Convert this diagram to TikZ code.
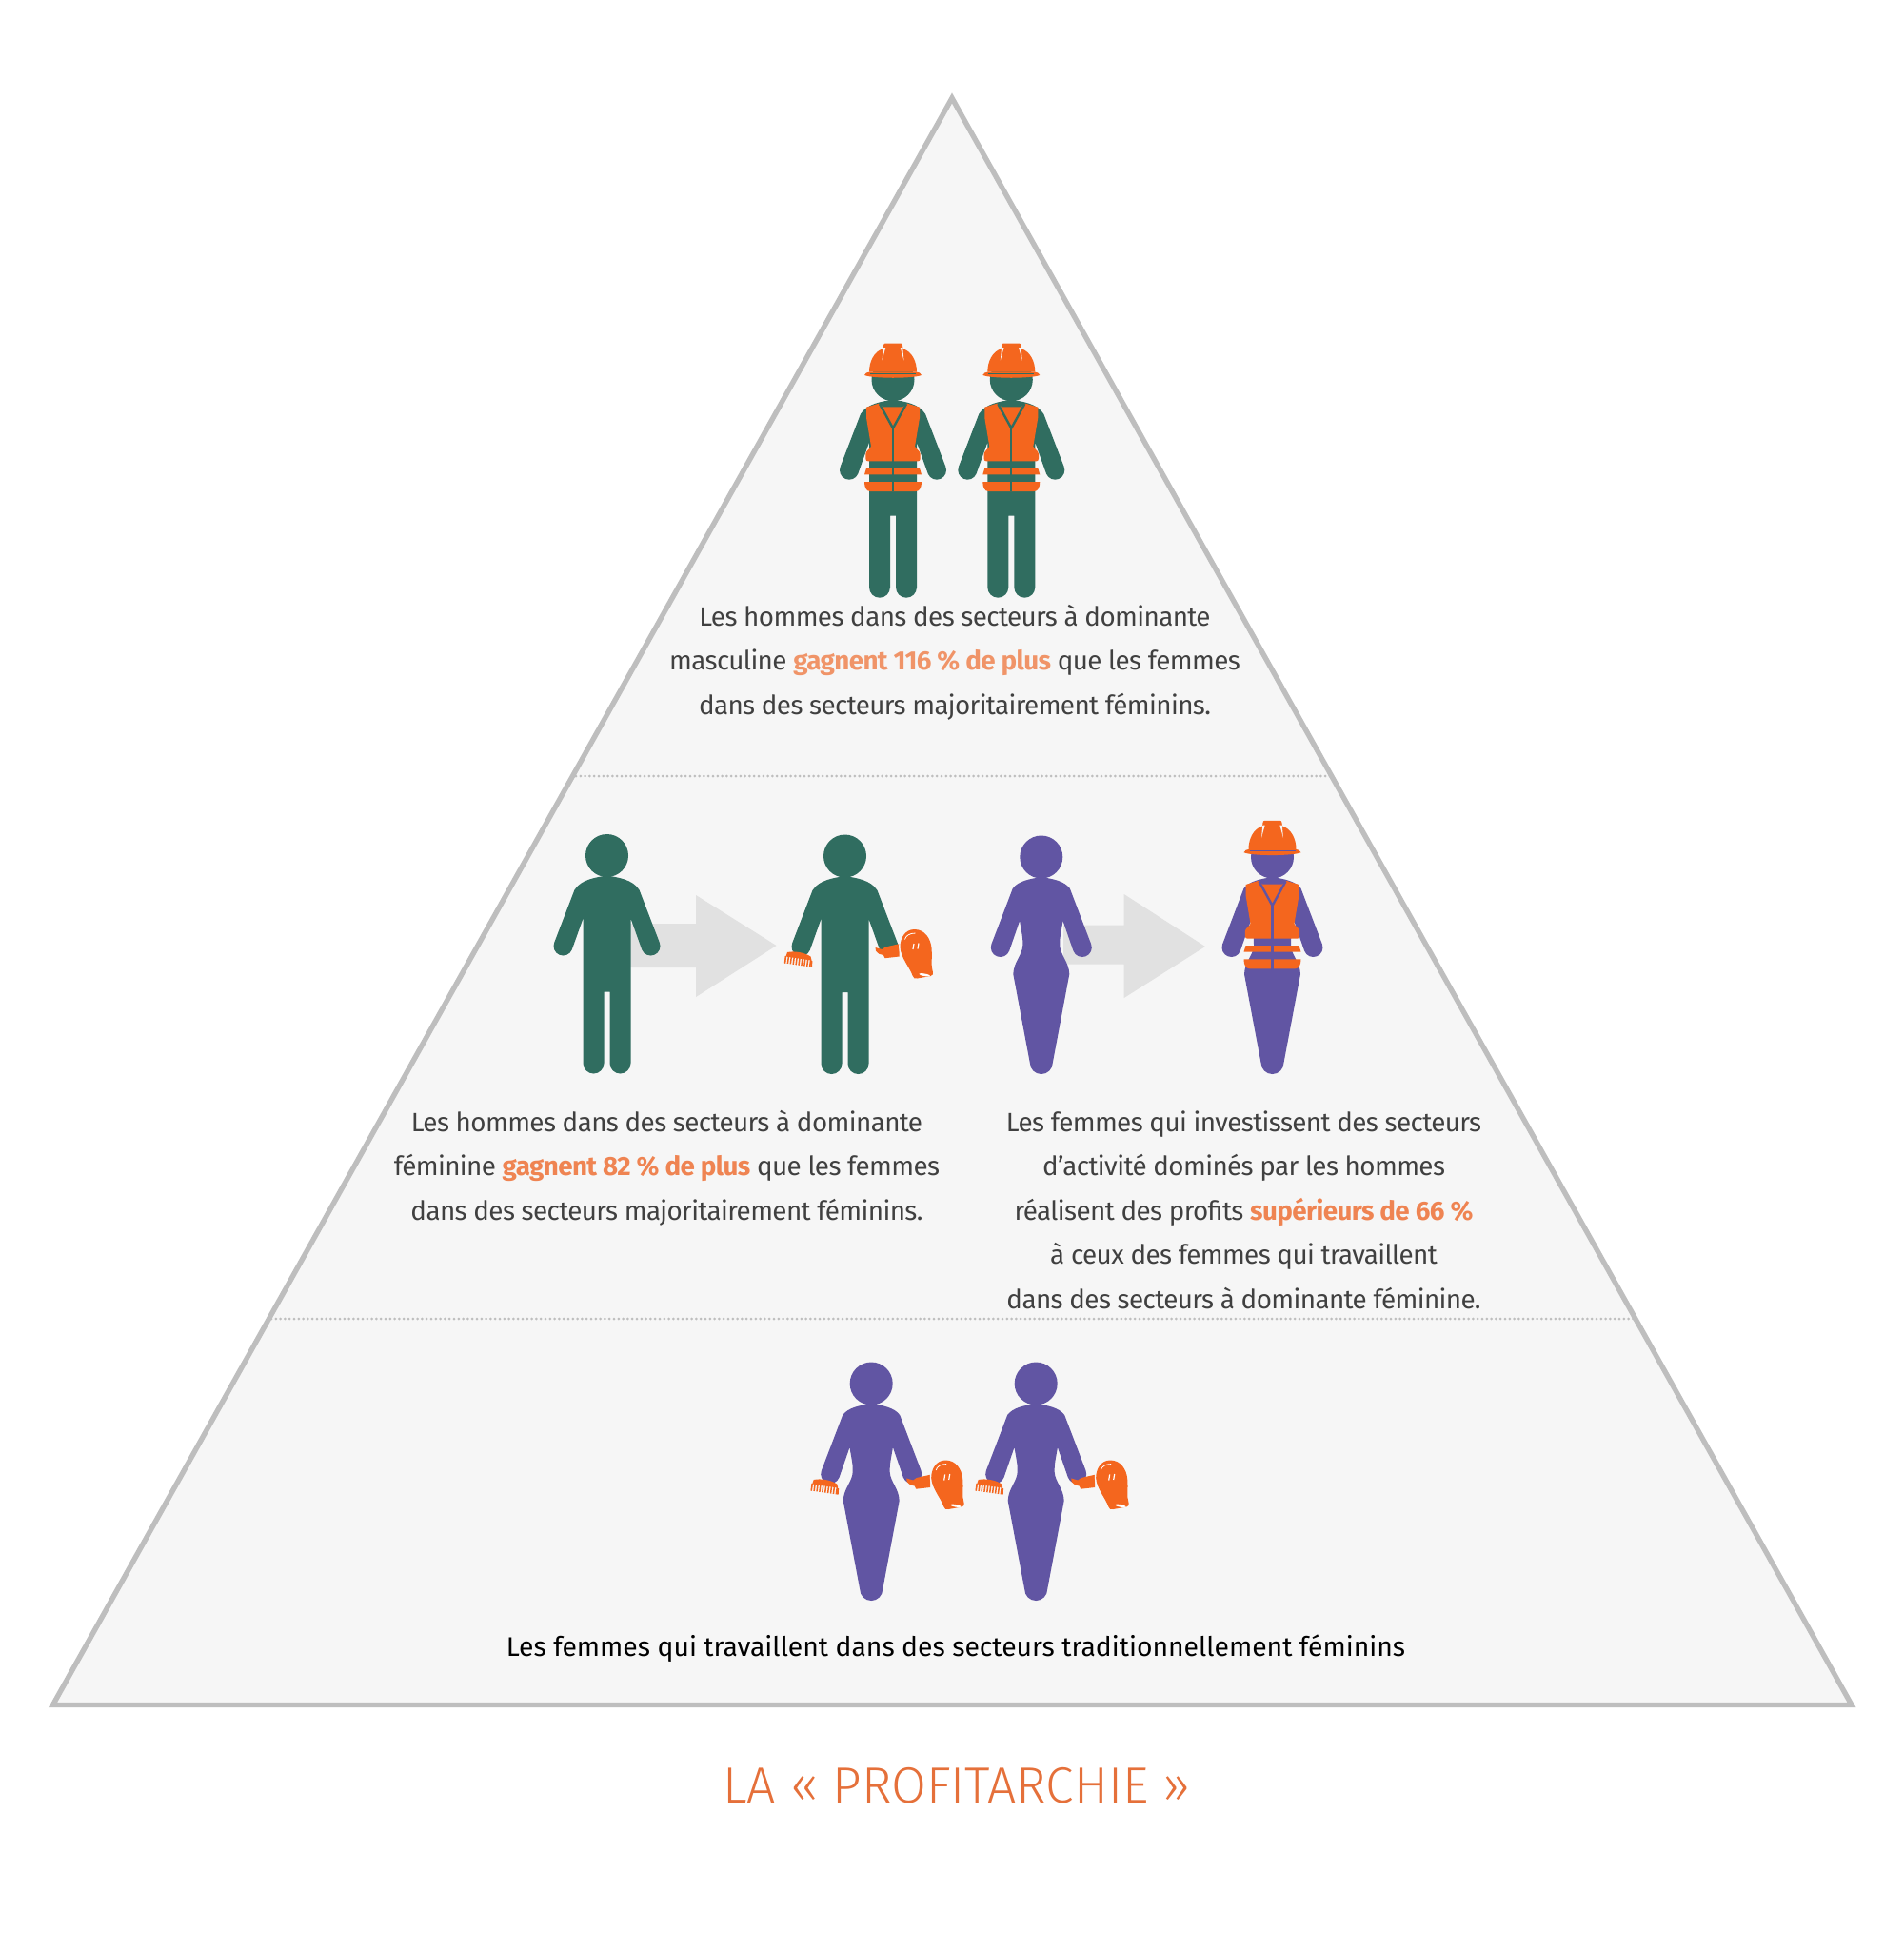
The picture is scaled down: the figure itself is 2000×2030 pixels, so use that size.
\documentclass[tikz,border=0pt]{standalone}
\usepackage{fontspec}
\setmainfont[LetterSpace=-2.2,Ligatures=ResetAll]{Fira Sans}
\newfontfamily\plainfont{Fira Sans}
\newfontfamily\lightfont{Fira Sans Light}
\definecolor{fondo}{HTML}{F6F6F6}
\definecolor{trait}{HTML}{BEBEBE}
\definecolor{vert}{HTML}{306D60}
\definecolor{violet}{HTML}{6155A3}
\definecolor{orangevif}{HTML}{F4661E}
\definecolor{texte}{HTML}{404040}
\definecolor{accentun}{HTML}{F09468}
\definecolor{accent}{HTML}{EF8452}
\definecolor{titre}{HTML}{E5703A}
\definecolor{fleche}{HTML}{E1E1E1}
\newcommand{\tetehomme}[1]{%
 \fill[#1] (0,0) circle[radius=22.5];
 \fill[#1] (0,21) .. controls (-12,23) and (-27,25) .. (-34,36) -- (-55.2,91.1)
   arc[start angle=203,end angle=23,radius=10] -- (-25,66) -- (-25,218)
   arc[start angle=180,end angle=0,radius=11] -- (-3,143) -- (3,143) -- (3,218)
   arc[start angle=180,end angle=0,radius=11] -- (25,66) -- (36.8,98.9)
   arc[start angle=157,end angle=-23,radius=10] -- (34,36)
   .. controls (27,25) and (12,23) .. (0,21) -- cycle;}
\newcommand{\tetefemme}[1]{%
 \fill[#1] (0,0) circle[radius=22.5];
 \fill[#1] (0,21) .. controls (-12,23) and (-24,25) .. (-30,33) -- (-52.35,91.45)
   arc[start angle=200.8,end angle=20.8,radius=10] -- (-22.7,67)
   .. controls (-21,78) and (-19,85) .. (-19.5,93)
   .. controls (-20,103) and (-29,110) .. (-29.5,123)
   -- (-12,216) arc[start angle=180,end angle=0,radius=12] -- (29.5,123)
   .. controls (29,110) and (20,103) .. (19.5,93)
   .. controls (19,85) and (21,78) .. (22.7,67) -- (33.65,98.55)
   arc[start angle=159.2,end angle=-20.8,radius=10] -- (30,33)
   .. controls (24,25) and (12,23) .. (0,21) -- cycle;}
\newcommand{\casque}[1]{%
 \fill[orangevif] (-25,-8) .. controls (-25,-19) and (-20,-29.5) .. (-10.5,-32.5) -- (-10,-36)
   .. controls (-10,-37.5) and (-9,-38.2) .. (-8,-38.2) -- (8,-38.2)
   .. controls (9,-38.2) and (10,-37.5) .. (10,-36) -- (10.5,-32.5)
   .. controls (20,-29.5) and (25,-19) .. (25,-8) -- cycle;
 \fill[fondo] (-10.2,-33.5) -- (-7.8,-33.5) -- (-11.5,-20) -- cycle;
 \fill[fondo] (10.2,-33.5) -- (7.8,-33.5) -- (11.5,-20) -- cycle;
 \fill[orangevif] (-30,-4.8) .. controls (-29,-7) and (-27,-8) .. (-25,-8) -- (25,-8)
   .. controls (27,-8) and (29,-7) .. (30,-4.8) .. controls (22,-1) and (-22,-1) .. (-30,-4.8) -- cycle;
 \draw[#1,line width=0.7pt] (-24,-6.3) -- (24,-6.3);}
\newcommand{\gilet}[1]{%
 \fill[orangevif] (-28,29) -- (-15,25) -- (-10,28.7) -- (10,28.7) -- (15,25) -- (28,29)
   -- (28,40) -- (23,70) .. controls (24,73) and (28,74) .. (28.7,78) -- (28.7,83)
   .. controls (28.7,85) and (27.5,85.7) .. (26,85.7) -- (-26,85.7)
   .. controls (-27.5,85.7) and (-28.7,85) .. (-28.7,83) -- (-28.7,78)
   .. controls (-28,74) and (-24,73) .. (-23,70) -- (-28,40) -- cycle;
 \fill[orangevif] (-30,99.7) -- (-28,93) -- (28,93) -- (30,99.7) -- cycle;
 \fill[orangevif] (-30,107.3) -- (30,107.3) .. controls (30,113) and (28,117.3) .. (24,117.3)
   -- (-24,117.3) .. controls (-28,117.3) and (-30,113) .. (-30,107.3) -- cycle;
 \draw[#1,line width=1.2pt] (-14,25.5) -- (0,51) -- (14,25.5);
 \draw[#1,line width=1.1pt] (0,51) -- (0,117.5);}
\newcommand{\peigne}{%
 \fill[orangevif] (-60.5,101) .. controls (-53,99.5) and (-43,101) .. (-36,105.5) -- (-35,109.5) -- (-62,105.5) -- cycle;
 \foreach \t in {0,...,9} {\draw[orangevif,line width=0.75pt] (-62+2.9*\t,105+0.43*\t) -- (-63+2.9*\t,112.5+0.43*\t);}
 \draw[orangevif,line width=0.5pt] (-63,112.5) -- (-62,105);
 \draw[orangevif,line width=0.9pt] (-35,110) -- (-35.4,116.5);}
\newcommand{\formesechoir}{(78,80.5) .. controls (68,80.5) and (63,90) .. (63,99) .. controls (63.5,110) and (73.5,121) .. (76,129)
   .. controls (76.5,132) and (79,132.5) .. (81,132) -- (95,129.5)
   .. controls (97.5,129) and (98,127) .. (97.3,125)
   .. controls (95,118) and (97,112) .. (96,100) .. controls (95,90) and (89,80.5) .. (78,80.5) -- cycle}
\newcommand{\sechoir}{%
 \fill[orangevif] (62,95.7) -- (47.5,99) -- (44,101.5) -- (37,99.5) -- (37.5,103) .. controls (40,106) and (42,107.5) .. (45.5,107.5) -- (47,110.7) -- (62,109) -- cycle;
 \draw[fondo,line width=1.4pt] \formesechoir;
 \fill[orangevif] \formesechoir;
 \fill[white,rotate around={-10:(88.7,128.3)}] (88.7,128.3) ellipse[x radius=6,y radius=1.3];
 \draw[white,line width=0.6pt] (77.5,95.5) -- (76.5,101.5);
 \draw[white,line width=0.6pt] (82.5,95) -- (81.5,101);
 \draw[white,line width=0.4pt] (68,91) .. controls (69,87) and (73,84.5) .. (79,84.5);}
\begin{document}
\begin{tikzpicture}[x=0.5pt,y=-0.5pt,
  corps/.style={font=\fontsize{13.9pt}{16pt}\selectfont,text=texte,anchor=base,inner sep=0pt,outer sep=0pt},
  pointille/.style={draw=trait,line width=1.5pt,line cap=round,dash pattern=on 0pt off 2.4pt},
  flechegrise/.style={fill=fleche}]
\useasboundingbox (0,0) rectangle (2000,2030);
\fill[white] (0,0) rectangle (2000,2030);
\filldraw[fill=fondo,draw=trait,line width=2.7pt,miter limit=10] (1000,103) -- (1945,1790.5) -- (55.5,1790.5) -- cycle;
\coordinate (p1g) at (605,815); \coordinate (p1d) at (1398,815);
\coordinate (p2g) at (285,1385); \coordinate (p2d) at (1716,1385);
\draw[pointille] (p1g) -- (p1d);
\draw[pointille] (p2g) -- (p2d);
% fleches
\fill[flechegrise] (660,970) -- (731,970) -- (731,940) -- (815.5,993) -- (731,1047) -- (731,1016) -- (660,1016) -- cycle;
\fill[flechegrise] (1117,971.7) -- (1180.7,971.7) -- (1180.7,939) -- (1266,994) -- (1180.7,1048) -- (1180.7,1012.7) -- (1117,1012.7) -- cycle;
% haut
\begin{scope}[shift={(938,398.7)}]\tetehomme{vert}\casque{vert}\gilet{vert}\end{scope}
\begin{scope}[shift={(1062.3,398.7)}]\tetehomme{vert}\casque{vert}\gilet{vert}\end{scope}
% milieu
\begin{scope}[shift={(637.5,898.5)}]\tetehomme{vert}\end{scope}
\begin{scope}[shift={(887.5,899)}]\tetehomme{vert}\peigne\begin{scope}[shift={(-5,-3.5)}]\sechoir\end{scope}\end{scope}
\begin{scope}[shift={(1093.8,900)}]\tetefemme{violet}\end{scope}
\begin{scope}[shift={(1336.5,900)}]\tetefemme{violet}\casque{violet}\gilet{violet}\end{scope}
% bas
\begin{scope}[shift={(915.2,1453)}]\tetefemme{violet}\peigne\sechoir\end{scope}
\begin{scope}[shift={(1088.2,1453)}]\tetefemme{violet}\peigne\sechoir\end{scope}
% textes
\node[corps] (t1a) at (1003,657.7) {Les hommes dans des secteurs à dominante};
\node[corps] (t1b) at (1003,703.7) {masculine \textcolor{accentun}{\bfseries gagnent 116 \% de plus} que les femmes};
\node[corps] (t1c) at (1003,750) {dans des secteurs majoritairement féminins.};
\node[corps] (t2a) at (700.5,1188.5) {Les hommes dans des secteurs à dominante};
\node[corps] (t2b) at (700.5,1234.7) {féminine \textcolor{accent}{\bfseries gagnent 82 \% de plus} que les femmes};
\node[corps] (t2c) at (700.5,1281.5) {dans des secteurs majoritairement féminins.};
\node[corps] (t3a) at (1306.5,1188.5) {Les femmes qui investissent des secteurs};
\node[corps] (t3b) at (1306.5,1234.7) {d'activité dominés par les hommes};
\node[corps] (t3c) at (1306.5,1281.5) {réalisent des profits \textcolor{accent}{\bfseries supérieurs de 66 \%}};
\node[corps] (t3d) at (1306.5,1327.7) {à ceux des femmes qui travaillent};
\node[corps] (t3e) at (1306.5,1374) {dans des secteurs à dominante féminine.};
\node[corps,text=black,font=\plainfont\fontsize{14.15pt}{16pt}\selectfont] (t4) at (1004,1739) {Les femmes qui travaillent dans des secteurs traditionnellement féminins};
\node[anchor=base,inner sep=0pt,text=titre,font=\lightfont\fontsize{26.7pt}{30pt}\selectfont] (titre) at (1005,1893) {LA « PROFITARCHIE »};
\end{tikzpicture}
\end{document}
